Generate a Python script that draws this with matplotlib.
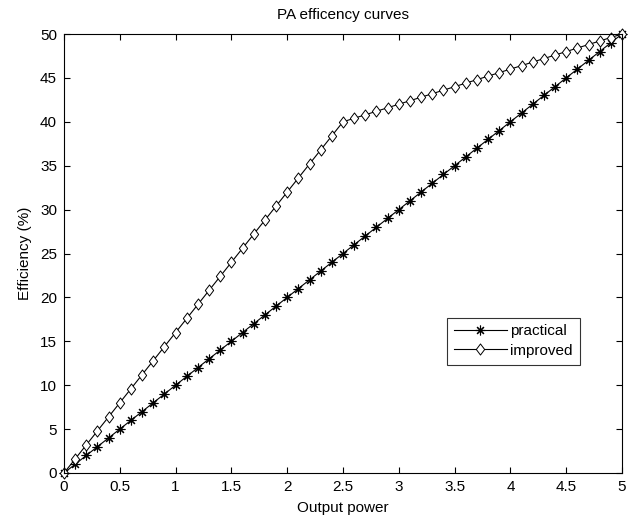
import matplotlib
matplotlib.use("Agg")
import matplotlib.pyplot as plt
from matplotlib.path import Path

output_power = [0.0, 0.1, 0.2, 0.3, 0.4, 0.5, 0.6, 0.7, 0.8, 0.9,
                1.0, 1.1, 1.2, 1.3, 1.4, 1.5, 1.6, 1.7, 1.8, 1.9,
                2.0, 2.1, 2.2, 2.3, 2.4, 2.5, 2.6, 2.7, 2.8, 2.9,
                3.0, 3.1, 3.2, 3.3, 3.4, 3.5, 3.6, 3.7, 3.8, 3.9,
                4.0, 4.1, 4.2, 4.3, 4.4, 4.5, 4.6, 4.7, 4.8, 4.9, 5.0]
practical = [0, 1, 2, 3, 4, 5, 6, 7, 8, 9,
             10, 11, 12, 13, 14, 15, 16, 17, 18, 19,
             20, 21, 22, 23, 24, 25, 26, 27, 28, 29,
             30, 31, 32, 33, 34, 35, 36, 37, 38, 39,
             40, 41, 42, 43, 44, 45, 46, 47, 48, 49, 50]
improved = [0, 1.6, 3.2, 4.8, 6.4, 8.0, 9.6, 11.2, 12.8, 14.4,
            16.0, 17.6, 19.2, 20.8, 22.4, 24.0, 25.6, 27.2, 28.8, 30.4,
            32.0, 33.6, 35.2, 36.8, 38.4, 40.0, 40.4, 40.8, 41.2, 41.6,
            42.0, 42.4, 42.8, 43.2, 43.6, 44.0, 44.4, 44.8, 45.2, 45.6,
            46.0, 46.4, 46.8, 47.2, 47.6, 48.0, 48.4, 48.8, 49.2, 49.6, 50.0]
series_labels = ["practical", "improved"]
x_ticks = [0, 0.5, 1, 1.5, 2, 2.5, 3, 3.5, 4, 4.5, 5]
x_tick_labels = ["0", "0.5", "1", "1.5", "2", "2.5", "3", "3.5", "4", "4.5", "5"]
y_ticks = [0, 5, 10, 15, 20, 25, 30, 35, 40, 45, 50]

plt.rcParams['font.family'] = ['Liberation Sans', 'DejaVu Sans']
FS = 11

fig = plt.figure(figsize=(6.30, 5.24), dpi=100)
ax = fig.add_axes([64/630, 51/524, 558/630, 439/524])

diamond = Path([(0, 1), (0.75, 0), (0, -1), (-0.75, 0), (0, 1)],
               [Path.MOVETO, Path.LINETO, Path.LINETO, Path.LINETO, Path.CLOSEPOLY])

ax.plot(output_power, practical, color='black', lw=0.8,
        marker=(8, 2, 0), markersize=7, markeredgewidth=0.8,
        label=series_labels[0], clip_on=False)
ax.plot(output_power, improved, color='black', lw=0.8,
        marker=diamond, markersize=8, markerfacecolor='white',
        markeredgewidth=0.7, label=series_labels[1], clip_on=False)

ax.set_xlim(0, 5)
ax.set_ylim(0, 50)
ax.set_xticks(x_ticks)
ax.set_xticklabels(x_tick_labels)
ax.set_yticks(y_ticks)
ax.tick_params(direction='in', top=True, right=True, length=4.5, width=0.8,
               labelsize=FS, pad=5)
for s in ax.spines.values():
    s.set_linewidth(0.8)

ax.set_title("PA efficency curves", fontsize=FS, pad=11)
ax.set_xlabel("Output power", fontsize=FS, labelpad=5)
ax.set_ylabel("Efficiency (%)", fontsize=FS, labelpad=6)

leg = ax.legend(loc='upper left', bbox_to_anchor=(0.686, 0.354),
                frameon=True, fancybox=False, edgecolor='black',
                handlelength=3.5, handletextpad=0.2, borderpad=0.45,
                labelspacing=0.35, borderaxespad=0, fontsize=FS)
leg.get_frame().set_linewidth(0.8)

fig.savefig("out.png", dpi=100)
